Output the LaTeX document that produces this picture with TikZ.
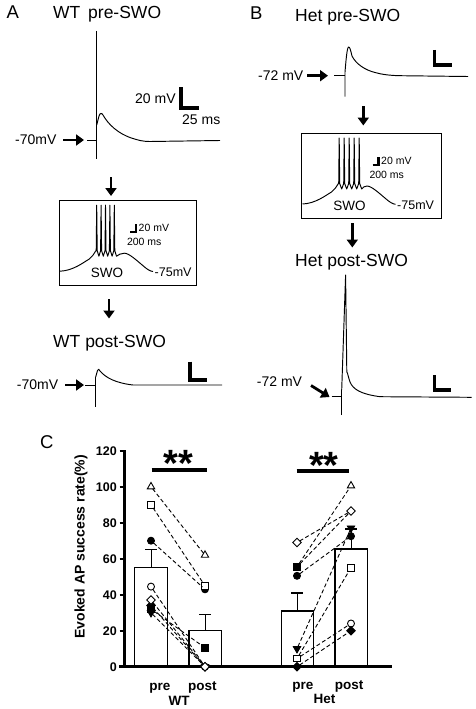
\documentclass[tikz,border=0pt]{standalone}
\usepackage{fontspec}
\setmainfont{Liberation Sans}
\usetikzlibrary{arrows.meta,shapes.geometric}
\newcommand\fsz[1]{\fontsize{#1}{#1}\selectfont}
\newcommand\swotrace[1]{%
 \draw[trace] (1,70.5) .. controls (14,70) and (24,62) .. (30,58.5) .. controls (33,56.5) and (35,53) .. (36.5,50.5)
  \foreach \i in {0,...,4}{ -- ({37.2+\i*#1},50) -- ({37.7+\i*#1},4.5) -- ({38.2+\i*#1},50) -- ({37.7+(\i+0.5)*#1},55.5) }
  .. controls ({37.7+4.5*#1+2},54) and (62,52.5) .. (65.5,52.5) .. controls (70,52.5) and (78,60) .. (84,65) .. controls (88,68.5) and (91,70.5) .. (94,70.8);
}
\newcommand\swocontent[2]{%
 \swotrace{#1}
 \draw[line width=2.2pt] (71,31.5) -- (77,31.5) -- (77,23.6);
 \node[inner sep=0pt, anchor=west] (#2mv) at (79.5,27.5) {\fsz{10.5}20 mV};
 \node[inner sep=0pt, anchor=west] (#2ms) at (67.8,41.5) {\fsz{10.5}200 ms};
 \node[inner sep=0pt] (#2swo) at (48,72) {\fsz{13.5}SWO};
 \node[inner sep=0pt, anchor=west] (#2rest) at (95.5,72) {\fsz{12.5}-75mV};
}
\begin{document}
\begin{tikzpicture}[x=1pt,y=-1pt,
  trace/.style={line width=0.95pt, line join=round},
  sbar/.style={line width=3.2pt},
  bigarrow/.style={line width=2.8pt,-{Triangle[length=8pt,width=11pt]}},
  lbl/.style={inner sep=0pt, anchor=base west},
  mk/.style={inner sep=0pt, outer sep=0pt, line width=0.9pt, draw=black},
  otri/.style={mk, regular polygon, regular polygon sides=3, minimum size=8.5pt, fill=white},
  ftri/.style={mk, regular polygon, regular polygon sides=3, shape border rotate=180, minimum size=8.5pt, fill=black},
  osq/.style={mk, rectangle, minimum size=6.5pt, fill=white},
  fsq/.style={mk, rectangle, minimum size=6.5pt, fill=black},
  ocir/.style={mk, circle, minimum size=7pt, fill=white},
  fcir/.style={mk, circle, minimum size=7pt, fill=black},
  odia/.style={mk, diamond, minimum size=8.5pt, fill=white},
  fdia/.style={mk, diamond, minimum size=8.5pt, fill=black},
  barbox/.style={line width=1.5pt, fill=white},
  errb/.style={line width=1.4pt},
  pair/.style={line width=0.9pt, dash pattern=on 4pt off 2.5pt},
  tick/.style={inner sep=0pt, anchor=east, font=\bfseries\fsz{12.5}},
  xl/.style={inner sep=0pt, anchor=base, font=\bfseries\fsz{13.5}}
]
\useasboundingbox (0,0) rectangle (475,709);

% ---------------- Panel A ----------------
\node[lbl] (lA) at (6.5,18.3) {\fsz{18.5}A};
\node[lbl] (tA1) at (53,18.3) {\fsz{17.5}WT};
\node[lbl] (tA2) at (88,18.3) {\fsz{17.5}pre-SWO};

\draw[trace] (87,140) -- (96.7,140);
\draw[trace] (96.7,31) -- (96.7,159);
\draw[trace] (96.7,125) -- (99,116) .. controls (100,113) and (101.5,112.5) .. (103,115) .. controls (108,124) and (118,134) .. (133,138.5) .. controls (138,140) and (142,141.5) .. (150,141.5) -- (220,140.5);
\draw[sbar] (181,87) -- (181,108) -- (199,108);
\node[lbl] (a20) at (135,103.3) {\fsz{14}20 mV};
\node[lbl] (a25) at (182,124) {\fsz{14}25 ms};
\node[lbl] (a70) at (15,144.3) {\fsz{14}-70mV};
\coordinate (aa1) at (63,140); \coordinate (aa2) at (84,140);
\draw[bigarrow] (aa1) -- (aa2);

\coordinate (ad1) at (111,177); \coordinate (ad2) at (111,196);
\draw[bigarrow] (ad1) -- (ad2);
\draw[line width=1pt] (59,200.7) rectangle (196.7,285.5);
\begin{scope}[shift={(59,200.7)}]
 \swocontent{4.4}{bA}
\end{scope}
\coordinate (ad3) at (109,299); \coordinate (ad4) at (109,318.5);
\draw[bigarrow] (ad3) -- (ad4);

\node[lbl] (tA3) at (53,347.7) {\fsz{17.5}WT post-SWO};
\draw[trace] (85,385) -- (95.7,385);
\draw[trace] (95.7,376.5) -- (95.7,406.5);
\draw[trace] (95.7,377) -- (97.5,370.5) .. controls (98.3,368.5) and (99,369) .. (100,371) .. controls (106,378) and (116,383) .. (133,385) -- (222,385);
\draw[sbar] (190,361.7) -- (190,380) -- (206.7,380);
\node[lbl] (a70b) at (16.7,389.3) {\fsz{14}-70mV};
\coordinate (ab1) at (65,385); \coordinate (ab2) at (84,385);
\draw[bigarrow] (ab1) -- (ab2);

% ---------------- Panel B ----------------
\node[lbl] (lB) at (250,19.3) {\fsz{18.5}B};
\node[lbl] (tB1) at (295,21.7) {\fsz{17.5}Het pre-SWO};
\draw[trace] (334,75.7) -- (345,75.7);
\draw[trace] (345,96.7) -- (345,72) .. controls (346,60) and (347,48) .. (348.5,47) .. controls (350,47) and (350.5,50) .. (352,56) .. controls (356,64) and (365,70) .. (375,72.5) .. controls (382,74.5) and (390,75.5) .. (400,75.7) -- (468,76.5);
\draw[sbar] (434.3,50) -- (434.3,65) -- (451.7,65);
\node[lbl] (b72) at (258,80) {\fsz{14}-72 mV};
\coordinate (ba1) at (307,75.7); \coordinate (ba2) at (328,75.7);
\draw[bigarrow] (ba1) -- (ba2);

\coordinate (bd1) at (363.3,106); \coordinate (bd2) at (363.3,125.5);
\draw[bigarrow] (bd1) -- (bd2);
\draw[line width=1pt] (301.5,133.5) rectangle (441.5,218.5);
\begin{scope}[shift={(301.5,133.5)}]
 \swocontent{5}{bB}
\end{scope}
\coordinate (bd3) at (352.3,223); \coordinate (bd4) at (352.3,247.5);
\draw[bigarrow] (bd3) -- (bd4);

\node[lbl] (tB2) at (295,266.7) {\fsz{17.5}Het post-SWO};
\draw[trace] (331.7,396.7) -- (341.7,396.7);
\draw[trace] (341.7,415) -- (341.7,390);
\draw[trace] (341.7,390) -- (345.6,275) -- (346.8,372) .. controls (347.5,372) and (348.5,378) .. (350,382) .. controls (353,389) and (360,394) .. (380,396.7) -- (471.7,397.3);
\draw[sbar] (434.3,375) -- (434.3,390) -- (450.7,390);
\node[lbl] (b72b) at (256.7,386.7) {\fsz{14}-72 mV};
\coordinate (bb1) at (311,385.5); \coordinate (bb2) at (329.5,397);
\draw[bigarrow] (bb1) -- (bb2);

% ---------------- Panel C ----------------
\node[lbl] (lC) at (40,448) {\fsz{18.5}C};
\node[rotate=90, inner sep=0pt] (ylab) at (81,546.7) {\bfseries\fsz{14}Evoked AP success rate(\%)};
\foreach \v in {0,20,...,120}{
  \draw[line width=2pt] (119.5,{666.7-1.8*\v}) -- (124.7,{666.7-1.8*\v});
  \node[tick] (tk\v) at (117,{666.7-1.8*\v}) {\v};
}

\begin{scope}[shift={(0,666.7)},yscale=-1.8]
 % bars
 \draw[barbox] (134.7,0) rectangle (167.7,55);
 \draw[errb] (151.2,55) -- (151.2,65) (145.2,65) -- (157.2,65);
 \draw[barbox] (189,0) rectangle (221.3,20);
 \draw[errb] (205.2,20) -- (205.2,29) (199.2,29) -- (211.2,29);
 \draw[barbox] (281.3,0) rectangle (313.3,31);
 \draw[errb] (297.3,31) -- (297.3,41) (291.3,41) -- (303.3,41);
 \draw[barbox] (335,0) rectangle (367.3,65.5);
 \draw[errb] (351.2,65.5) -- (351.2,76.5) (345.2,76.5) -- (357.2,76.5);
 % axes
 \draw[line width=3.2pt] (124.7,0) -- (124.7,120.6);
 \draw[line width=3pt] (119,0) -- (392,0);
 % WT pre
 \node[otri] (w1) at (151,100) {};
 \node[osq]  (w2) at (151,90) {};
 \node[fcir] (w3) at (151,70) {};
 \node[ftri] (w8) at (151,30) {};
 \node[fsq]  (w7) at (151,32) {};
 \node[fdia] (w6) at (151,34) {};
 \node[odia] (w5) at (151,37) {};
 \node[ocir] (w4) at (151,44.5) {};
 % WT post
 \node[otri] (v1) at (205,62) {};
 \node[fcir] (v3) at (205,43) {};
 \node[osq]  (v2) at (205,45) {};
 \node[fsq]  (v7) at (205,10.5) {};
 \node[ftri] (v8) at (205,0) {};
 \node[fdia] (v6) at (205,0) {};
 \node[ocir] (v4) at (205,0) {};
 \node[odia] (v5) at (205,0) {};
 % Het pre
 \node[odia] (h1) at (297,69) {};
 \node[fcir] (h3) at (297,50.5) {};
 \node[fsq]  (h2) at (297,55.5) {};
 \node[fdia] (h6) at (297,0) {};
 \node[ftri] (h4) at (297,10) {};
 \node[osq]  (h5) at (297,4.5) {};
 % Het post
 \node[otri] (g1) at (351,100.5) {};
 \node[odia] (g2) at (351,86.5) {};
 \node[ftri] (g3) at (351,77) {};
 \node[fcir] (g4) at (351,72.5) {};
 \node[osq]  (g5) at (351,55) {};
 \node[ocir] (g6) at (351,24) {};
 \node[fdia] (g7) at (351,20) {};
\end{scope}
% dashed pairs
\draw[pair] (w1) -- (v1);
\draw[pair] (w2) -- (v2);
\draw[pair] (w3) -- (v3);
\draw[pair] (w4) -- (v4);
\draw[pair] (w5) -- (v5);
\draw[pair] (w6) -- (v6);
\draw[pair] (w7) -- (v7);
\draw[pair] (w8) -- (v8);
\draw[pair] (h1) -- (g2);
\draw[pair] (h2) -- (g1);
\draw[pair] (h2) -- (g2);
\draw[pair] (h3) -- (g4);
\draw[pair] (h4) -- (g3);
\draw[pair] (h5) -- (g5);
\draw[pair] (h5) -- (g6);
\draw[pair] (h6) -- (g7);

% significance
\coordinate (s1a) at (151.7,470); \coordinate (s1b) at (206.7,470);
\draw[line width=4.5pt] (s1a) -- (s1b);
\coordinate (s2a) at (296.7,471); \coordinate (s2b) at (349.3,471);
\draw[line width=4.5pt] (s2a) -- (s2b);
\node[inner sep=0pt, anchor=base] (st1) at (178.3,476) {\bfseries\fsz{38}**};
\node[inner sep=0pt, anchor=base] (st2) at (323.8,478) {\bfseries\fsz{38}**};

% x labels
\node[xl] (x1) at (160,690) {pre};
\node[xl] (x2) at (202.3,690) {post};
\node[xl] (x3) at (179.2,705) {WT};
\node[xl] (x4) at (302.8,689.3) {pre};
\node[xl] (x5) at (349.2,689.3) {post};
\node[xl] (x6) at (324.5,703.3) {Het};
\end{tikzpicture}
\end{document}
